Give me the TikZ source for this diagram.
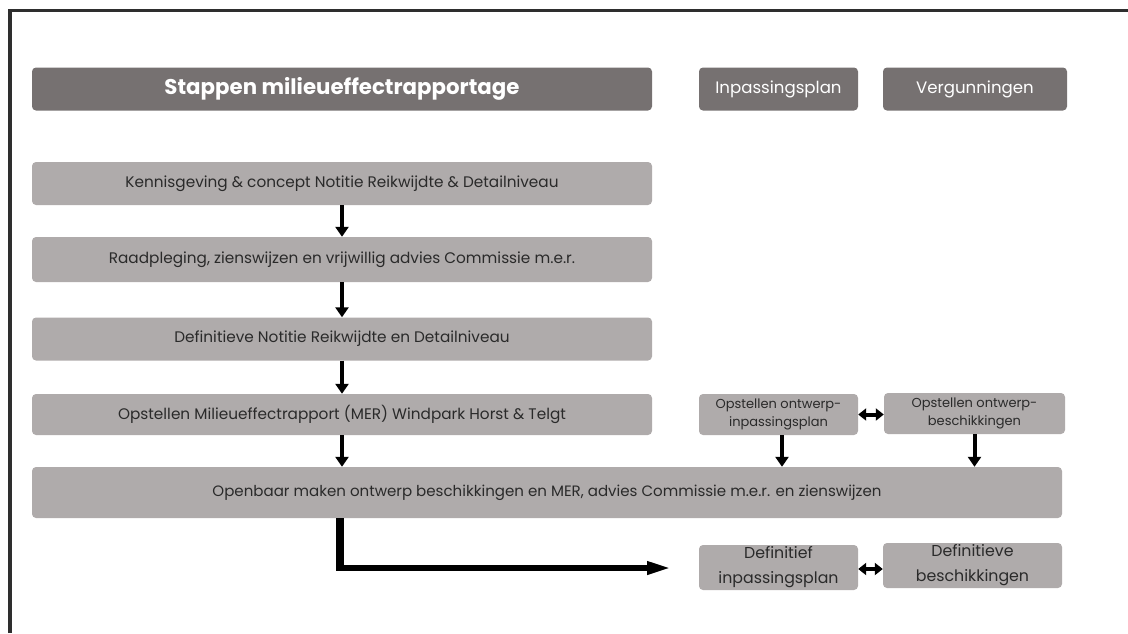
\documentclass[tikz,border=0pt]{standalone}
\usepackage{fontspec}
\setmainfont{Poppins}
\usetikzlibrary{arrows.meta,calc}
\definecolor{darkbox}{HTML}{767171}
\definecolor{lightbox}{HTML}{AFABAB}
\definecolor{framecol}{HTML}{2E2E2E}
\definecolor{txt}{HTML}{2A2A2A}
\begin{document}
\begin{tikzpicture}[x=1pt,y=-1pt,
 base/.style={rounded corners=4pt, inner sep=0pt, align=center},
 headbox/.style={base, fill=darkbox, text=white, minimum height=43pt},
 stepbox/.style={base, fill=lightbox, text=txt, minimum width=620pt, font=\fontsize{15.3}{18}\selectfont},
 smallbox/.style={base, fill=lightbox, text=txt, font=\fontsize{13}{18}\selectfont},
 defbox/.style={base, fill=lightbox, text=txt, font=\fontsize{15.8}{25}\selectfont},
 arr/.style={line width=4pt, -{Triangle[width=13pt,length=10pt]}},
 darr/.style={line width=4pt, {Triangle[width=12pt,length=8pt]}-{Triangle[width=12pt,length=8pt]}},
]
\useasboundingbox (0,0) rectangle (1128,633);
\draw[framecol, line width=3.5pt] (9.75,633) -- (9.75,10.5) -- (1128,10.5);

% header row
\node[headbox, minimum width=620pt, font=\bfseries\fontsize{21.3}{24}\selectfont] (h1) at (342,89) {Stappen milieueffectrapportage};
\node[headbox, minimum width=159pt, font=\fontsize{16.6}{19}\selectfont] (h2) at (778.5,89) {Inpassingsplan};
\node[headbox, minimum width=184pt, font=\fontsize{16.6}{19}\selectfont] (h3) at (975,89) {Vergunningen};

% steps
\node[stepbox, minimum height=43pt] (b1) at (342,183.5) {Kennisgeving \& concept Notitie Reikwijdte \& Detailniveau};
\node[stepbox, minimum height=45pt] (b2) at (342,259.5) {Raadpleging, zienswijzen en vrijwillig advies Commissie m.e.r.};
\node[stepbox, minimum height=43pt] (b3) at (342,339) {Definitieve Notitie Reikwijdte en Detailniveau};
\node[stepbox, minimum height=41pt] (b4) at (342,414.5) {Opstellen Milieueffectrapport (MER) Windpark Horst \& Telgt};
\node[stepbox, minimum width=1030pt, minimum height=51pt, font=\fontsize{15.05}{18}\selectfont] (b5) at (547,492.5) {Openbaar maken ontwerp beschikkingen en MER, advies Commissie m.e.r. en zienswijzen};

% right side boxes
\node[smallbox, minimum width=159pt, minimum height=41pt] (oi) at (778.5,414.5) {Opstellen ontwerp-\\inpassingsplan};
\node[smallbox, minimum width=181pt, minimum height=41pt] (ob) at (974.5,413.5) {Opstellen ontwerp-\\beschikkingen};
\node[defbox, minimum width=159pt, minimum height=45pt] (di) at (778.5,567.5) {Definitief\\inpassingsplan};
\node[defbox, minimum width=179pt, minimum height=45pt] (db) at (972.5,565.5) {Definitieve\\beschikkingen};

% arrows
\coordinate (oiout) at ($(oi.south)+(3.5,0)$);
\draw[arr] (b1.south) -- (b2.north);
\draw[arr] (b2.south) -- (b3.north);
\draw[arr] (b3.south) -- (b4.north);
\draw[arr] (b4.south) -- (b5.north -| b4.south);
\draw[arr] (oiout) -- (b5.north -| oiout);
\draw[arr] (ob.south) -- (b5.north -| ob.south);
\draw[darr] (oi.east) -- (ob.west |- oi.east);
\coordinate (dy) at (0,569);
\draw[darr] (di.east |- dy) -- (db.west |- dy);

\coordinate (corner) at (340,568);
\coordinate (tipend) at (672,568);
\draw[line width=8pt] (b5.south -| corner) -- ($(corner)+(0,-3)$);
\draw[line width=6pt, -{Triangle[width=12pt,length=25pt]}] ($(corner)+(-4,0)$) -- (tipend);
\end{tikzpicture}
\end{document}
